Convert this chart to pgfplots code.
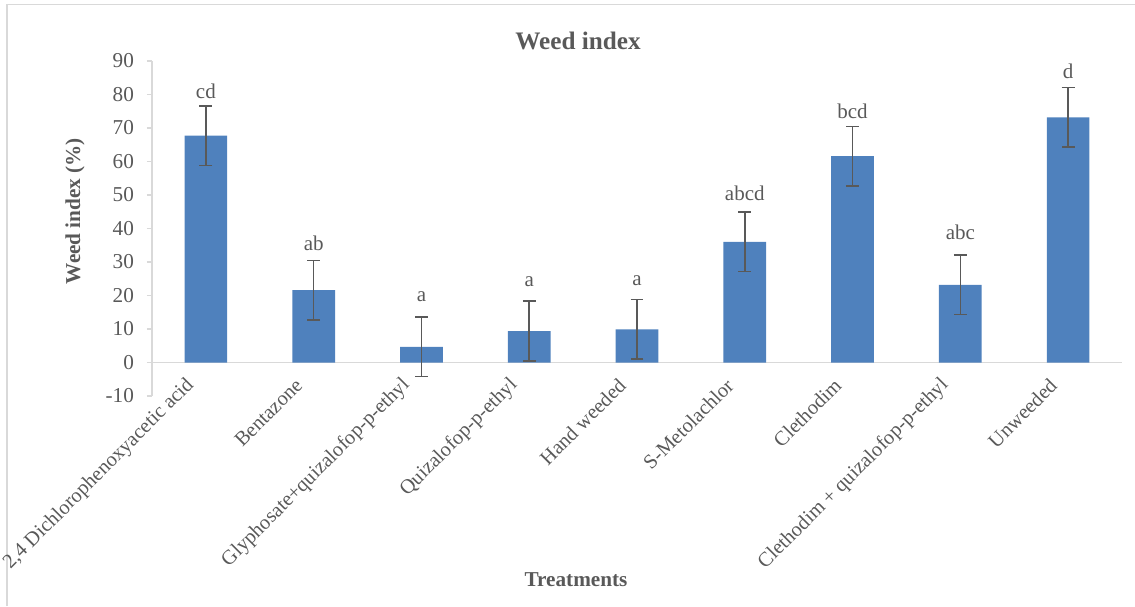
\documentclass[border=0pt]{standalone}
\usepackage{fontspec}
\setmainfont{Liberation Serif}
\usepackage{pgfplots}
\usepackage{pgfplotstable}
\pgfplotsset{compat=1.18}
\definecolor{barblue}{HTML}{4F81BD}
\definecolor{txt}{HTML}{595959}
\definecolor{axgray}{HTML}{D9D9D9}

\pgfplotstableread{
x y err
0 67.7 8.9
1 21.6 8.9
2 4.7 8.9
3 9.4 8.9
4 9.9 8.9
5 36.0 8.9
6 61.6 8.9
7 23.2 8.9
8 73.2 8.9
}\data

\begin{document}
\begin{tikzpicture}
\useasboundingbox (-76pt,-105pt) rectangle (491.5pt,198pt);
\draw[axgray, line width=0.75pt] (-72.5pt,-105pt) -- (-72.5pt,195.75pt) -- (491.5pt,195.75pt);
\begin{axis}[
 at={(0pt,0pt)}, anchor=south west,
 scale only axis, width=485pt, height=167.5pt,
 xmin=-0.5, xmax=8.5, ymin=-10, ymax=90,
 axis x line*=middle, axis y line*=left,
 axis line style={axgray, line width=0.75pt, -},
 xtick={0,...,8},
 xticklabels={{2,4 Dichlorophenoxyacetic acid}, Bentazone, Glyphosate+quizalofop-p-ethyl, Quizalofop-p-ethyl, Hand weeded, S-Metolachlor, Clethodim, Clethodim + quizalofop-p-ethyl, Unweeded},
 x tick style={draw=none},
 ytick={-10,0,10,20,30,40,50,60,70,80,90},
 y tick style={axgray, line width=0.75pt},
 tick align=outside, major tick length=2.5pt,
 ticklabel style={font=\fontsize{10.6}{12}\selectfont, text=txt},
 /pgf/number format/assume math mode=true,
 yticklabel style={xshift=-3pt},
 xticklabel style={rotate=45, anchor=east, xshift=-7pt, font=\fontsize{10.2}{12}\selectfont},
 ybar, bar width=21.35pt,
 clip=false,
]
\addplot[fill=barblue, draw=none,
  error bars/.cd, y dir=both, y explicit,
  error bar style={txt, line width=0.75pt},
  error mark options={rotate=90, mark size=3.2pt, line width=0.75pt, txt}]
  table[x=x, y=y, y error=err]{\data};
\begin{scope}[every node/.style={anchor=base, text=txt, font=\fontsize{10.5}{12}\selectfont}]
\node at (axis cs:0,78.9) {cd};
\node at (axis cs:1,33.5) {ab};
\node at (axis cs:2,18.1) {a};
\node at (axis cs:3,22.6) {a};
\node at (axis cs:4,22.9) {a};
\node at (axis cs:5,48.5) {abcd};
\node at (axis cs:6,72.9) {bcd};
\node at (axis cs:7,36.6) {abc};
\node at (axis cs:8,84.9) {d};
\end{scope}
\end{axis}
\node[font=\bfseries\fontsize{12.6}{14}\selectfont, text=txt] at (213pt,177.5pt) {Weed index};
\node[font=\bfseries\fontsize{10.6}{12}\selectfont, text=txt] at (212pt,-92pt) {Treatments};
\node[font=\bfseries\fontsize{10.6}{12}\selectfont, text=txt, rotate=90] at (-38.5pt,92.5pt) {Weed index (\%)};
\end{tikzpicture}
\end{document}
